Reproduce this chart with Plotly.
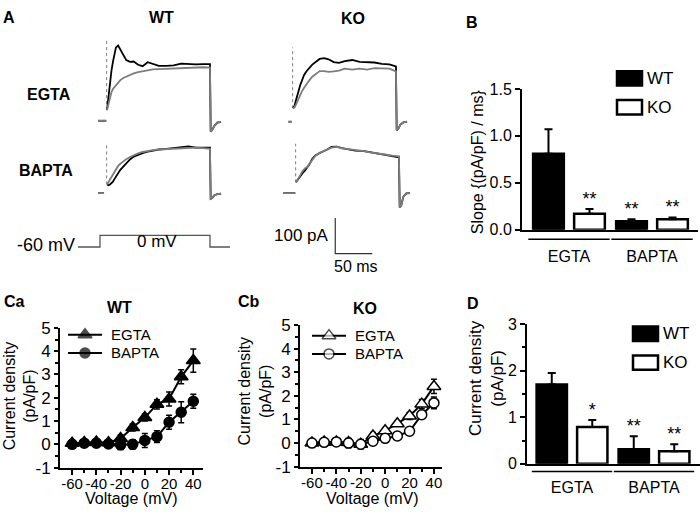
import plotly.graph_objects as go

W, H = 700, 521
FONT = "Arial, Liberation Sans, sans-serif"
GRAY = "#7d7d7d"

# ---------------- A: example currents ----------------
# time in ms from step onset, current in pA relative to holding level
hold_mv, step_mv, step_ms = -60, 0, 140
sweep_t = [0, 2, 4, 6, 8, 10, 12, 15, 18, 22, 26, 31, 36, 42, 48, 55, 62, 70,
           80, 90, 100, 110, 120, 130, 139]
tail_t = [140, 142, 145, 149, 154]

wt_egta_pre = [-12, -1]
wt_egta_black = [30, 70, 111, 140, 165, 187, 205, 211, 200, 184, 170, 165, 166, 157,
                 153, 164, 160, 154, 154, 155, 160, 158, 158, 159, 159]
wt_egta_gray = [30, 50, 67, 80, 89, 94, 100, 107, 114, 120, 124, 129, 133, 136,
                139, 142, 144, 145, 146, 146, 147, 149, 150, 150, 149]
wt_egta_tail = [-30, -26, -14, -5, -3]
wt_egta_artifact = 224

wt_bapta_pre = [-12, -4]
wt_bapta_black = [24, 22, 24, 28, 32, 39, 46, 54, 65, 74, 83, 94, 102, 108,
                  112, 116, 119, 122, 124, 126, 128, 131, 127, 127, 127]
wt_bapta_gray = [24, 31, 39, 46, 54, 62, 68, 76, 82, 89, 95, 101, 106, 111,
                 115, 118, 120, 122, 123, 125, 126, 127, 127, 126, 124]
wt_bapta_tail = [-16, -14, -6, -3, -2]
wt_bapta_artifact = 138

ko_egta_pre = [-6, -2]
ko_egta_black = [38, 44, 60, 77, 93, 104, 115, 131, 141, 151, 160, 168, 176, 178,
                 175, 167, 165, 170, 173, 168, 167, 166, 162, 161, 155]
ko_egta_gray = [38, 40, 48, 58, 67, 76, 85, 95, 105, 116, 126, 135, 142, 142,
                140, 141, 143, 149, 146, 149, 146, 150, 149, 149, 141]
ko_egta_tail = [-24, -20, -8, -2, 0]
ko_egta_artifact = 208

ko_bapta_pre = [-17, -1]
ko_bapta_black = [30, 36, 43, 49, 55, 59, 63, 70, 80, 96, 105, 111, 117, 122,
                  129, 130, 126, 122, 119, 118, 114, 110, 108, 104, 100]
ko_bapta_gray = [30, 36, 43, 51, 59, 64, 69, 73, 82, 95, 104, 112, 117, 123,
                 127, 130, 125, 123, 121, 118, 114, 112, 108, 105, 103]
ko_bapta_tail = [-40, -35, -10, -1, 0]
ko_bapta_artifact = 138

scale_pa, scale_ms = 100, 50

# ---------------- B: activation slope ----------------
groups = ["EGTA", "BAPTA"]
slope_wt = [0.81, 0.09]
slope_wt_err = [0.26, 0.02]
slope_ko = [0.17, 0.11]
slope_ko_err = [0.05, 0.02]
slope_wt_sig = ["", "**"]
slope_ko_sig = ["**", "**"]

# ---------------- C: I-V curves ----------------
voltage = [-60, -50, -40, -30, -20, -10, 0, 10, 20, 30, 40]
voltage_ticks = [-60, -40, -20, 0, 20, 40]
density_ticks = [-1, 0, 1, 2, 3, 4, 5]
wt_egta_iv = [0.05, 0.08, 0.1, 0.07, 0.25, 0.72, 1.15, 1.72, 1.95, 2.9, 3.6]
wt_egta_iv_err = [0.15, 0.12, 0.12, 0.1, 0.15, 0.15, 0.15, 0.2, 0.3, 0.3, 0.5]
wt_bapta_iv = [0.0, 0.05, 0.05, 0.02, -0.02, 0.0, 0.17, 0.33, 0.95, 1.38, 1.85]
wt_bapta_iv_err = [0.1, 0.1, 0.1, 0.1, 0.2, 0.2, 0.3, 0.25, 0.3, 0.45, 0.3]
ko_egta_iv = [0.0, 0.05, 0.05, 0.02, -0.05, 0.3, 0.52, 0.82, 1.15, 1.65, 2.4]
ko_egta_iv_err = [0.15, 0.15, 0.15, 0.15, 0.2, 0.15, 0.1, 0.1, 0.15, 0.2, 0.3]
ko_bapta_iv = [0.0, 0.03, 0.05, 0.0, -0.05, 0.08, 0.2, 0.3, 0.5, 1.2, 1.7]
ko_bapta_iv_err = [0.1, 0.1, 0.1, 0.2, 0.15, 0.1, 0.1, 0.15, 0.15, 0.15, 0.25]

# ---------------- D: current density at 0 mV ----------------
dens_wt = [1.7, 0.31]
dens_wt_err = [0.25, 0.28]
dens_ko = [0.79, 0.27]
dens_ko_err = [0.15, 0.15]
dens_wt_sig = ["", "**"]
dens_ko_sig = ["*", "**"]


def dx(a, b):
    return [a / W, b / W]


def dy(top, bottom):
    return [1 - bottom / H, 1 - top / H]


fig = go.Figure()
layout = {}
annotations = []
shapes = []


def label(text, x, y, size=16, bold=False, anchor="center", angle=0):
    annotations.append(dict(
        text="<b>%s</b>" % text if bold else text, x=x / W, y=1 - y / H,
        xref="paper", yref="paper", showarrow=False, xanchor=anchor,
        yanchor="middle", textangle=angle,
        font=dict(size=size, family=FONT, color="black")))


# ---- panel A traces ----
MS_PX, PA_PX = 1.35, 2.7
trace_sets = [
    (1, 107, 116, 30, 135, wt_egta_pre, wt_egta_black, wt_egta_gray, wt_egta_tail, wt_egta_artifact),
    (2, 107, 191, 135, 205, wt_bapta_pre, wt_bapta_black, wt_bapta_gray, wt_bapta_tail, wt_bapta_artifact),
    (3, 293, 117, 30, 135, ko_egta_pre, ko_egta_black, ko_egta_gray, ko_egta_tail, ko_egta_artifact),
    (4, 296, 191, 135, 262, ko_bapta_pre, ko_bapta_black, ko_bapta_gray, ko_bapta_tail, ko_bapta_artifact),
]
for n, onset, base, top, bottom, pre, blk, gry, tail, art in trace_sets:
    s = "" if n == 1 else str(n)
    left, right = onset - 17, onset + 123
    layout["xaxis" + s] = dict(domain=dx(left, right), anchor="y" + s, visible=False,
                               range=[(left - onset) * MS_PX, (right - onset) * MS_PX])
    layout["yaxis" + s] = dict(domain=dy(top, bottom), anchor="x" + s, visible=False,
                               range=[(base - bottom) * PA_PX, (base - top) * PA_PX])
    fig.add_trace(go.Scatter(x=[-0.5, -0.5], y=[blk[0], art], mode="lines",
                             line=dict(color=GRAY, width=1, dash="dot"),
                             xaxis="x" + s, yaxis="y" + s))
    for body, color in ((blk, "black"), (gry, GRAY)):
        fig.add_trace(go.Scatter(
            x=pre + [None] + sweep_t + tail_t,
            y=[0] * len(pre) + [None] + body + tail,
            mode="lines", line=dict(color=color, width=1.8),
            xaxis="x" + s, yaxis="y" + s))

# scale bar on the KO/BAPTA axes
bar_t0, bar_i0 = 53, -70
fig.add_trace(go.Scatter(x=[bar_t0, bar_t0, bar_t0 + scale_ms],
                         y=[bar_i0, bar_i0 - scale_pa, bar_i0 - scale_pa],
                         mode="lines", line=dict(color="#333", width=1.2),
                         xaxis="x4", yaxis="y4"))

# voltage protocol
layout["xaxis5"] = dict(domain=dx(78, 230), range=[-28, 165.5], anchor="y5", visible=False)
layout["yaxis5"] = dict(domain=dy(228, 252), range=[-85, 35], anchor="x5", visible=False)
fig.add_trace(go.Scatter(x=[-28, 0, 0, step_ms, step_ms, 165.5],
                         y=[hold_mv, hold_mv, step_mv, step_mv, hold_mv, hold_mv],
                         mode="lines", line=dict(color="#555", width=1.3),
                         xaxis="x5", yaxis="y5"))

label("A", 9, 9, bold=True)
label("WT", 161, 9, size=16, bold=True)
label("KO", 353, 10, size=16, bold=True)
label("EGTA", 49, 89, bold=True)
label("BAPTA", 46, 168, bold=True)
label("%d mV" % hold_mv, 77, 245, size=18, anchor="right")
label("%d mV" % step_mv, 157, 241, size=17)
label("%d pA" % scale_pa, 331, 235, size=17, anchor="right")
label("%d ms" % scale_ms, 356, 267, size=16)

# ---- shared axis styling ----
TICKFONT = dict(size=16, family=FONT, color="black")


def data_axis(**kw):
    d = dict(showline=True, linecolor="black", linewidth=2, showgrid=False,
             zeroline=False, ticks="outside", ticklen=5, tickwidth=2,
             tickcolor="black", tickfont=TICKFONT, tickangle=0)
    d.update(kw)
    return d


# ---- bar panels B and D ----
cat = list(range(len(groups)))
OFF, BW = 0.247, 0.37


def bar_panel(n, xdom, ydom, xrange, yaxis_kw, wt, wt_err, ko, ko_err, wt_sig, ko_sig,
              line_y, standoff):
    xr, yr = "x%d" % n, "y%d" % n
    layout["xaxis%d" % n] = data_axis(domain=xdom, range=xrange, anchor=yr, ticks="",
                                      tickvals=cat, ticktext=groups,
                                      ticklabelstandoff=standoff,
                                      tickfont=dict(size=16, family=FONT, color="black"))
    layout["yaxis%d" % n] = data_axis(domain=ydom, anchor=xr, **yaxis_kw)
    for vals, errs, sig, fill, off in ((wt, wt_err, wt_sig, "black", -OFF),
                                       (ko, ko_err, ko_sig, "white", OFF)):
        xs = [c + off for c in cat]
        fig.add_trace(go.Bar(
            x=xs, y=vals, width=BW, xaxis=xr, yaxis=yr,
            marker=dict(color=fill, line=dict(color="black", width=2.5)),
            error_y=dict(type="data", symmetric=False, array=errs,
                         arrayminus=[0] * len(errs), color="black",
                         thickness=2, width=4)))
        fig.add_trace(go.Scatter(
            x=xs, y=[v + e for v, e in zip(vals, errs)], mode="text", text=sig,
            textposition="top center", cliponaxis=False,
            textfont=dict(size=18, family=FONT, color="black"),
            xaxis=xr, yaxis=yr))
    for c in cat:
        shapes.append(dict(type="line", xref=xr, yref="paper", x0=c - 0.49, x1=c + 0.49,
                           y0=1 - line_y / H, y1=1 - line_y / H,
                           line=dict(color="black", width=1.5)))


bar_panel(6, dx(522, 698), dy(83, 229), [-0.566, 1.554],
          dict(range=[0, 1.5], dtick=0.5, tickformat=".1f"),
          slope_wt, slope_wt_err, slope_ko, slope_ko_err, slope_wt_sig, slope_ko_sig,
          239, 11)
bar_panel(9, dx(527, 700), dy(327, 472), [-0.549, 1.561],
          dict(range=[0, 3], dtick=1,
               minor=dict(dtick=0.5, ticks="outside", ticklen=3, tickwidth=1.5,
                          tickcolor="black")),
          dens_wt, dens_wt_err, dens_ko, dens_ko_err, dens_wt_sig, dens_ko_sig,
          480, 8)


def legend_boxes(x0, y_wt, y_ko):
    for (yc, fill, name) in ((y_wt, "black", "WT"), (y_ko, "white", "KO")):
        shapes.append(dict(type="rect", xref="paper", yref="paper",
                           x0=x0 / W, x1=(x0 + 25) / W,
                           y0=1 - (yc + 7.5) / H, y1=1 - (yc - 7.5) / H,
                           fillcolor=fill, line=dict(color="black", width=2.5)))
        label(name, x0 + 28, yc, size=17, anchor="left")


label("B", 472, 14, bold=True)
label("Slope {(pA/pF) / ms}", 477, 158, size=16, angle=-90)
legend_boxes(617, 72, 102)

label("D", 473, 306, bold=True)
label("Current density<br>(pA/pF)", 486, 383, size=17, angle=-90)
legend_boxes(633, 337, 367)

# ---- I-V panels Ca and Cb ----
layout["xaxis10"] = dict(domain=[0, 1], range=[0, W], anchor="y10", visible=False)
layout["yaxis10"] = dict(domain=[0, 1], range=[H, 0], anchor="x10", visible=False)


def iv_panel(n, xdom, ydom, xrange, egta, egta_err, bapta, bapta_err, fill,
             key_x, key_y):
    xr, yr = "x%d" % n, "y%d" % n
    minor = dict(ticks="outside", ticklen=3, tickwidth=1.5, tickcolor="black")
    layout["xaxis%d" % n] = data_axis(
        domain=xdom, range=xrange, anchor=yr, tickvals=voltage_ticks,
        ticktext=[str(v) for v in voltage_ticks], ticklabelstandoff=-4,
        tickfont=dict(size=15, family=FONT, color="black"),
        minor=dict(tickvals=[v + 10 for v in voltage_ticks[:-1]], **minor))
    layout["yaxis%d" % n] = data_axis(
        domain=ydom, range=[-1, 5], anchor=xr, ticklen=4, tickvals=density_ticks,
        ticktext=[str(v) for v in density_ticks], tickfont=dict(size=17, family=FONT, color="black"),
        minor=dict(tickvals=[v + 0.5 for v in density_ticks[:-1]], **minor))
    rows = ((egta, egta_err, "triangle-up", 12, "EGTA"),
            (bapta, bapta_err, "circle", 10, "BAPTA"))
    for i, (vals, errs, sym, size, name) in enumerate(rows):
        mk = dict(symbol=sym, size=size, color=fill, line=dict(color="black", width=1.5))
        fig.add_trace(go.Scatter(
            x=voltage, y=vals, mode="lines+markers", cliponaxis=False,
            line=dict(color="black", width=2), marker=mk,
            error_y=dict(type="data", array=errs, color="black", thickness=1.5, width=3),
            xaxis=xr, yaxis=yr))
        ky = key_y[i]
        fig.add_trace(go.Scatter(
            x=[key_x, key_x + 17, key_x + 34], y=[ky, ky, ky], mode="lines+markers",
            line=dict(color="black", width=2),
            marker=dict(symbol=sym, size=[0, size, 0], color=fill,
                        line=dict(color="black", width=1.5)),
            xaxis="x10", yaxis="y10"))
        label(name, key_x + 41, ky, size=15, anchor="left")


iv_panel(7, dx(60, 203), dy(331, 476), [-70, 48], wt_egta_iv, wt_egta_iv_err,
         wt_bapta_iv, wt_bapta_iv_err, "black", 68, (338, 357))
iv_panel(8, dx(300, 442), dy(328, 475), [-69.8, 46.6], ko_egta_iv, ko_egta_iv_err,
         ko_bapta_iv, ko_bapta_iv_err, "white", 312, (339, 358))

label("Ca", 14, 304, bold=True)
label("WT", 119, 310, size=16, bold=True)
label("Current density<br>(pA/pF)", 20, 402, size=16, angle=-90)
label("Voltage (mV)", 131, 508, size=16)

label("Cb", 249, 304, bold=True)
label("KO", 365, 311, size=16, bold=True)
label("Current density<br>(pA/pF)", 255, 397, size=16, angle=-90)
label("Voltage (mV)", 372, 508, size=16)

fig.update_layout(
    width=W, height=H, autosize=False, margin=dict(l=0, r=0, t=0, b=0),
    paper_bgcolor="white", plot_bgcolor="rgba(0,0,0,0)", showlegend=False,
    barmode="overlay", font=dict(family=FONT, color="black"),
    annotations=annotations, shapes=shapes, **layout)

fig.write_html("out.html", config={"displayModeBar": False},
               post_script="document.body.style.margin = '0';")
